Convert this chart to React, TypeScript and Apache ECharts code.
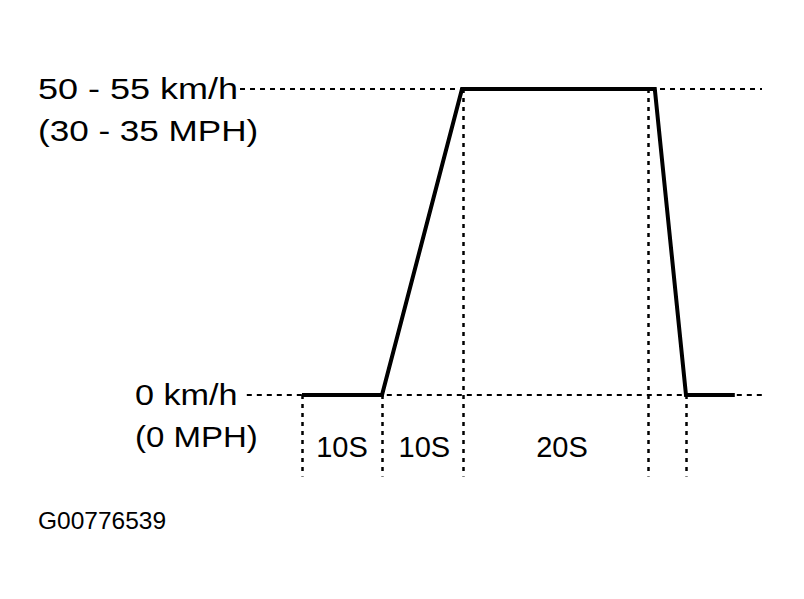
import React, { useEffect, useRef } from "react";
import * as echarts from "echarts";

// Speed profile (diagram time units, km/h; top level is the 50-55 km/h band)
const timeS = [0, 10, 20, 44.1, 48, 54.1];
const speedKmh = [0, 0, 52.5, 52.5, 0, 0];

// Reference speed levels (dotted horizontal guides) and where each guide starts/ends in time
const speedLevels = [0, 52.5];
const guideStart = [-6.9, -7.75];
const guideEnd = [57.9, 57.5];

// Phase boundaries (dotted vertical guides): time and level they start from
const boundaryTimes = [0, 10, 20.1, 43.25, 48];
const boundaryFrom = [0, 0, 52.5, 52.5, 0];

// Phase duration labels
const phaseLabels = ["10S", "10S", "20S"];
const phaseCenters = [5, 15.3, 32.5];
const phaseLabelLevel = -8.9;

// Axis ranges
const xMin = -8;
const xMax = 58;
const yMin = -14;
const yMax = 52.5;

// Text labels
const speedLabelTop = ["50 - 55 km/h", "(30 - 35 MPH)"];
const speedLabelBottom = ["0 km/h", "(0 MPH)"];
const figureId = "G00776539";

const FONT = '"Liberation Sans", Arial, Helvetica, sans-serif';

export default function App() {
  const ref = useRef<HTMLDivElement>(null);

  useEffect(() => {
    if (!ref.current) return;
    const chart = echarts.init(ref.current, null, { renderer: "svg" });

    const dotted = { color: "#000", width: 2, type: [5, 5] as number[] };
    const dottedV = { color: "#000", width: 2.5, type: [4, 5] as number[] };

    const markData: any[] = [];
    speedLevels.forEach((v, i) => {
      markData.push([
        { coord: [guideStart[i], v], lineStyle: dotted },
        { coord: [guideEnd[i], v] },
      ]);
    });
    boundaryTimes.forEach((t, i) => {
      markData.push([
        { coord: [t, boundaryFrom[i]], lineStyle: dottedV },
        { coord: [t, yMin] },
      ]);
    });

    const textStyle = (t: string, x: number, y: number, sx: number, size = 30) => ({
      type: "text",
      x,
      y,
      scaleX: sx,
      silent: true,
      style: {
        text: t,
        fill: "#000",
        font: `${size}px ${FONT}`,
        textAlign: "left",
        textVerticalAlign: "middle",
      },
    });

    chart.setOption({
      animation: false,
      backgroundColor: "#fff",
      grid: { left: 238, right: 38, top: 89, height: ((yMax - yMin) * 306) / 52.5 },
      xAxis: { type: "value", min: xMin, max: xMax, show: false },
      yAxis: { type: "value", min: yMin, max: yMax, show: false },
      series: [
        {
          type: "line",
          data: timeS.map((t, i) => [t, speedKmh[i]]),
          symbol: "none",
          lineStyle: { color: "#000", width: 4, join: "miter" },
          z: 5,
          markLine: {
            silent: true,
            symbol: "none",
            label: { show: false },
            z: 1,
            data: markData,
          },
        },
        {
          type: "scatter",
          symbolSize: 0,
          silent: true,
          itemStyle: { opacity: 1, color: "#000" },
          data: phaseCenters.map((c, i) => ({ value: [c, phaseLabelLevel], name: phaseLabels[i] })),
          label: {
            show: true,
            position: "inside",
            formatter: (p: any) => p.name,
            color: "#000",
            opacity: 1,
            textBorderWidth: 0,
            fontSize: 29,
            fontFamily: FONT,
          },
        },
      ],
      graphic: [
        textStyle(speedLabelTop[0], 38, 89, 1.2),
        textStyle(speedLabelTop[1], 38, 130, 1.17),
        textStyle(speedLabelBottom[0], 135, 395, 1.14),
        textStyle(speedLabelBottom[1], 135, 437, 1.1),
        textStyle(figureId, 38, 520, 1.0, 24.5),
      ],
    });

    return () => chart.dispose();
  }, []);

  return (
    <div
      ref={ref}
      style={{ position: "fixed", left: 0, top: 0, width: 804, height: 599, background: "#fff" }}
    />
  );
}
